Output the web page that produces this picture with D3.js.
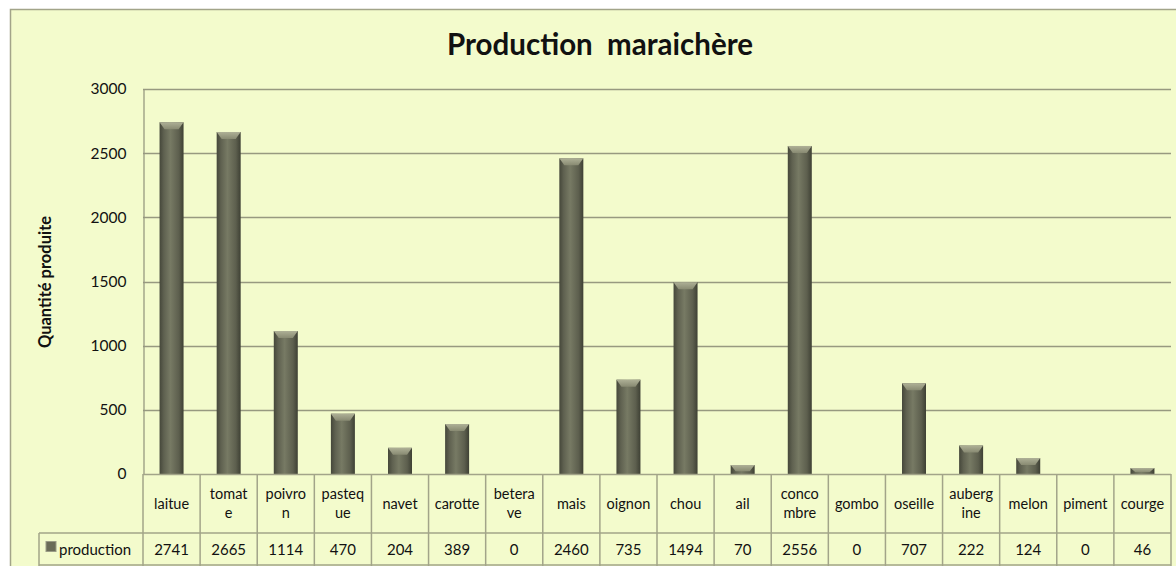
<!DOCTYPE html>
<html>
<head>
<meta charset="utf-8">
<script src="https://cdn.jsdelivr.net/npm/d3@7"></script>
<style>
  body { margin: 0; background: #ffffff; }
  svg { display: block; font-family: Lato, "Open Sans", sans-serif; }
</style>
</head>
<body>
<svg width="1176" height="566"></svg>
<script>
// chart data
const categories = ["laitue", "tomate", "poivron", "pasteque", "navet", "carotte", "beterave", "mais", "oignon", "chou",
  "ail", "concombre", "gombo", "oseille", "aubergine", "melon", "piment", "courge"];
const labelLines = [["laitue"], ["tomat", "e"], ["poivro", "n"], ["pasteq", "ue"], ["navet"], ["carotte"], ["betera", "ve"],
  ["mais"], ["oignon"], ["chou"], ["ail"], ["conco", "mbre"], ["gombo"], ["oseille"], ["auberg", "ine"], ["melon"], ["piment"], ["courge"]];
const production = [2741, 2665, 1114, 470, 204, 389, 0, 2460, 735, 1494, 70, 2556, 0, 707, 222, 124, 0, 46];
const yTicks = [0, 500, 1000, 1500, 2000, 2500, 3000];
const seriesName = "production";

const svg = d3.select('svg');
const bg = '#f3fbcc';
const lineCol = '#a2a489';

// outer chart frame
svg.append('rect')
  .attr('x', 10.5).attr('y', 9.5)
  .attr('width', 1180).attr('height', 570)
  .attr('fill', bg)
  .attr('stroke', lineCol).attr('stroke-width', 1.5);

const plotLeft = 143, plotRight = 1171, plotTop = 89, plotBottom = 474;

const x = d3.scaleBand().domain(categories).range([plotLeft, plotRight]).padding(0);
const y = d3.scaleLinear().domain([0, 3000]).range([plotBottom, plotTop]);

// title
svg.append('text')
  .attr('x', 600).attr('y', 55)
  .attr('text-anchor', 'middle')
  .attr('font-size', 29.5).attr('font-weight', 'bold')
  .attr('fill', '#111')
  .attr('xml:space', 'preserve')
  .text('Production  maraichère');

// y axis title
svg.append('text')
  .attr('transform', 'translate(51,282) rotate(-90)')
  .attr('text-anchor', 'middle')
  .attr('font-size', 16.5).attr('font-weight', 'bold')
  .attr('fill', '#111')
  .text('Quantité produite');

// gridlines
svg.append('g').selectAll('line')
  .data(yTicks.filter(d => d > 0))
  .enter().append('line')
  .attr('x1', plotLeft).attr('x2', plotRight)
  .attr('y1', d => Math.round(y(d)) + 0.5).attr('y2', d => Math.round(y(d)) + 0.5)
  .attr('stroke', '#979980').attr('stroke-width', 1.3);

// y axis
const yAxis = svg.append('g')
  .attr('transform', `translate(${plotLeft + 0.5},0)`)
  .call(d3.axisLeft(y).tickValues(yTicks).tickFormat(d3.format('d')).tickSize(0).tickPadding(17));
yAxis.select('.domain').attr('stroke', '#979980').attr('stroke-width', 1.3);
yAxis.selectAll('text').attr('font-size', 15.5).attr('fill', '#111').attr('font-family', 'Lato, sans-serif');

// bar gradient (cylinder look)
const defs = svg.append('defs');
const grad = defs.append('linearGradient').attr('id', 'barGrad').attr('x1', 0).attr('x2', 1).attr('y1', 0).attr('y2', 0);
grad.append('stop').attr('offset', '0%').attr('stop-color', '#45473a');
grad.append('stop').attr('offset', '18%').attr('stop-color', '#5f6150');
grad.append('stop').attr('offset', '45%').attr('stop-color', '#777a64');
grad.append('stop').attr('offset', '80%').attr('stop-color', '#5d5f4e');
grad.append('stop').attr('offset', '100%').attr('stop-color', '#3e4034');

const capGrad = defs.append('linearGradient').attr('id', 'capGrad').attr('x1', 0).attr('x2', 0).attr('y1', 0).attr('y2', 1);
capGrad.append('stop').attr('offset', '0%').attr('stop-color', '#aeb096');
capGrad.append('stop').attr('offset', '100%').attr('stop-color', '#888a72');

const barW = 24;
const bars = svg.append('g').selectAll('g')
  .data(production.map((v, i) => ({ cat: categories[i], v })).filter(d => d.v > 0))
  .enter().append('g')
  .attr('transform', d => `translate(${x(d.cat) + x.bandwidth() / 2 - barW / 2},0)`);

bars.append('rect')
  .attr('x', 0).attr('y', d => y(d.v))
  .attr('width', barW).attr('height', d => plotBottom - y(d.v))
  .attr('fill', 'url(#barGrad)');

// bevelled top
bars.append('path')
  .attr('d', d => {
    const t = y(d.v);
    const h = Math.min(7, (plotBottom - t) * 0.7);
    return `M0,${t} L${barW},${t} L${barW - 5},${t + h} L5,${t + h} Z`;
  })
  .attr('fill', 'url(#capGrad)');

// data table
const catRowTop = plotBottom, catRowBottom = 533, valRowBottom = 566;
const tableLeft = 39;
const table = svg.append('g');

// vertical column lines
table.selectAll('line.col')
  .data(categories)
  .enter().append('line')
  .attr('class', 'col')
  .attr('x1', d => x(d) + x.bandwidth()).attr('x2', d => x(d) + x.bandwidth())
  .attr('y1', catRowTop).attr('y2', valRowBottom)
  .attr('stroke', lineCol).attr('stroke-width', 1.5);

table.append('line')
  .attr('x1', plotLeft).attr('x2', plotLeft).attr('y1', catRowTop).attr('y2', valRowBottom)
  .attr('stroke', lineCol).attr('stroke-width', 1.5);
table.append('line')
  .attr('x1', tableLeft).attr('x2', tableLeft).attr('y1', catRowBottom).attr('y2', valRowBottom)
  .attr('stroke', lineCol).attr('stroke-width', 1.5);
table.append('line')
  .attr('x1', plotLeft).attr('x2', plotRight).attr('y1', catRowTop + 0.5).attr('y2', catRowTop + 0.5)
  .attr('stroke', lineCol).attr('stroke-width', 1.5);
table.append('line')
  .attr('x1', tableLeft).attr('x2', plotRight).attr('y1', catRowBottom).attr('y2', catRowBottom)
  .attr('stroke', lineCol).attr('stroke-width', 1.5);
table.append('line')
  .attr('x1', tableLeft).attr('x2', plotRight).attr('y1', valRowBottom - 1).attr('y2', valRowBottom - 1)
  .attr('stroke', lineCol).attr('stroke-width', 1.5);

// category labels
const catMid = (catRowTop + catRowBottom) / 2;
table.selectAll('text.cat')
  .data(labelLines.map((l, i) => ({ cat: categories[i], lines: l })))
  .enter().append('text')
  .attr('class', 'cat')
  .attr('text-anchor', 'middle')
  .attr('font-size', 14.5).attr('fill', '#111')
  .each(function (d) {
    const n = d.lines.length;
    d3.select(this).selectAll('tspan')
      .data(d.lines)
      .enter().append('tspan')
      .attr('x', x(d.cat) + x.bandwidth() / 2)
      .attr('y', (l, j) => catMid + 5 + (j - (n - 1) / 2) * 19)
      .text(l => l);
  });

// values row
const valMid = (catRowBottom + valRowBottom) / 2;
table.selectAll('text.val')
  .data(production.map((v, i) => ({ cat: categories[i], v })))
  .enter().append('text')
  .attr('class', 'val')
  .attr('x', d => x(d.cat) + x.bandwidth() / 2)
  .attr('y', valMid + 5)
  .attr('text-anchor', 'middle')
  .attr('font-size', 15).attr('fill', '#111')
  .text(d => d.v);

// legend key + series name
table.append('rect')
  .attr('x', 46).attr('y', valMid - 8).attr('width', 10).attr('height', 10)
  .attr('fill', '#6a6c58').attr('stroke', '#9a9c86');
table.append('text')
  .attr('x', 59).attr('y', valMid + 5)
  .attr('font-size', 15).attr('fill', '#111')
  .text(seriesName);
</script>
</body>
</html>
